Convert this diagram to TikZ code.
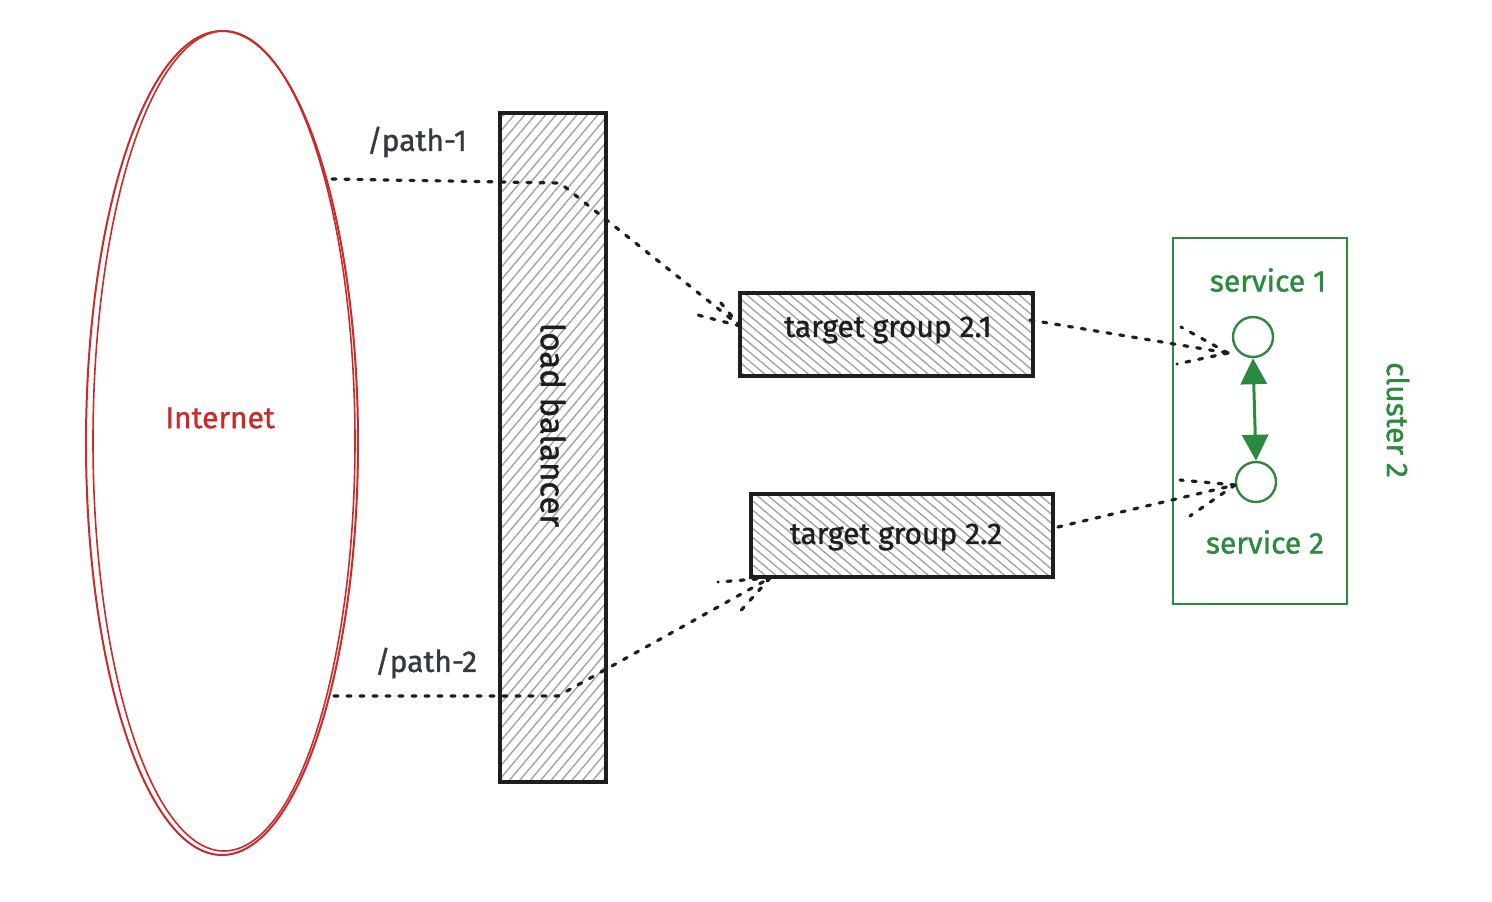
\documentclass[tikz,border=0pt]{standalone}
\usepackage{fontspec}
\setmainfont{Fira Sans}[FakeBold=1.2]
\usetikzlibrary{shapes.geometric,patterns.meta,arrows.meta,calc}
\definecolor{inetred}{HTML}{C92A2A}
\definecolor{grn}{HTML}{2B8A3E}
\definecolor{ink}{HTML}{1E1E1E}
\definecolor{hatchc}{HTML}{9EA4AB}
\definecolor{lbl}{HTML}{343A40}
\begin{document}
\begin{tikzpicture}[x=1pt,y=-1pt,
  hbox/.style={draw=ink, line width=3.2pt, inner sep=0pt, pattern color=hatchc},
  dots/.style={draw=ink, line width=3.2pt, dash pattern=on 4pt off 9pt, line cap=round},
  txt/.style={font=\fontsize{30}{36}\selectfont, text=ink, inner sep=0pt},
  grntxt/.style={txt, text=grn},
  svc/.style={circle, draw=grn, line width=2.4pt, minimum size=40pt, inner sep=0pt},
]
\path[use as bounding box] (0,0) rectangle (1492,902);

% Internet
\node[ellipse, draw=inetred, line width=2pt, minimum width=272pt, minimum height=824pt, inner sep=0pt] (inet) at (222,443) {};
\draw[inetred, line width=1.6pt] (224,441) ellipse [x radius=131pt, y radius=410pt];
\node[txt, text=inetred] (inettxt) at (220,418) {Internet};

% load balancer
\node[hbox, minimum width=106pt, minimum height=669pt,
  pattern={Lines[angle=50,distance=8pt,line width=1.4pt]}] (lb) at (553,447.5) {};
\node[txt, rotate=-90, font=\fontsize{33}{38}\selectfont] (lbtxt) at (553,425) {load balancer};

% target groups
\node[hbox, minimum width=293pt, minimum height=83pt,
  pattern={Lines[angle=-40,distance=7pt,line width=1.4pt]}] (tg1) at (886.5,334.5) {};
\node[txt] (tg1txt) at (888,330) {target group 2.1};
\node[hbox, minimum width=302pt, minimum height=83pt,
  pattern={Lines[angle=-40,distance=7pt,line width=1.4pt]}] (tg2) at (902,535.5) {};
\node[txt] (tg2txt) at (896,537) {target group 2.2};

% cluster
\node[draw=grn, line width=2.8pt, minimum width=174pt, minimum height=366pt, inner sep=0pt] (cl) at (1260,421) {};
\node[grntxt, rotate=-90] (cltxt) at (1398,420) {cluster 2};
\node[svc] (s1) at (1253,337) {};
\node[svc] (s2) at (1256,482) {};
\node[grntxt] (s1txt) at (1268,280) {service 1};
\node[grntxt] (s2txt) at (1265,542) {service 2};
\draw[grn, line width=3pt, {Triangle[length=26pt,width=26pt]}-{Triangle[length=26pt,width=26pt]}] (s1.south) -- (s2.north);

% path labels
\node[txt, text=lbl] (p1lbl) at (417,142) {/path-1};
\node[txt, text=lbl] (p2lbl) at (426,663) {/path-2};

% dotted connectors
\coordinate (p1s) at (332,179);
\coordinate (p1b) at (560,183);
\coordinate (a1) at (740,326);
\draw[dots] (p1s) -- (p1b) -- (a1);
\draw[dots] (a1) -- (690,313);
\draw[dots] (a1) -- (716,297);

\coordinate (p2s) at (334,696);
\coordinate (p2b) at (558,696);
\coordinate (a2) at (770,578);
\draw[dots] (p2s) -- (p2b) -- (a2);
\draw[dots] (a2) -- (718,582);
\draw[dots] (a2) -- (736,616);

\coordinate (t1s) at (1030,320);
\coordinate (a3) at (1228,353);
\draw[dots] (t1s) -- (a3);
\draw[dots] (a3) -- (1181,327);
\draw[dots] (a3) -- (1177,364);

\coordinate (t2s) at (1058,527);
\coordinate (a4) at (1235,485);
\draw[dots] (t2s) -- (a4);
\draw[dots] (a4) -- (1180,480);
\draw[dots] (a4) -- (1190,516);
\end{tikzpicture}
\end{document}
